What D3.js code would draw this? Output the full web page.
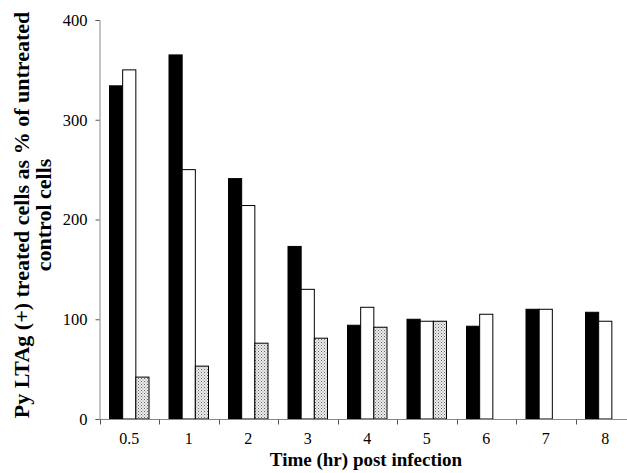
<!DOCTYPE html>
<html>
<head>
<meta charset="utf-8">
<script src="https://cdn.jsdelivr.net/npm/d3@7"></script>
<style>
  body { margin: 0; background: #fff; }
  svg { display: block; }
  .tick text { font-family: "Liberation Serif", "DejaVu Serif", serif; font-size: 16.5px; fill: #000; }
</style>
</head>
<body>
<div id="chart"></div>
<script>
// Py LTAg(+) treated cells as % of untreated, by time post infection
var categories = ['0.5', '1', '2', '3', '4', '5', '6', '7', '8'];
var seriesBlack = [334, 365, 241, 173, 94, 100, 93, 110, 107];
var seriesWhite = [350, 250, 214, 130, 112, 98, 105, 110, 98];
var seriesDotted = [42, 53, 76, 81, 92, 98, null, null, null];
var yTicks = [0, 100, 200, 300, 400];

var series = [
    { key: 'black', values: seriesBlack, fill: '#000' },
    { key: 'white', values: seriesWhite, fill: '#fff' },
    { key: 'dotted', values: seriesDotted, fill: 'url(#stipple)' }
];

var W = 627, H = 473;
var svg = d3.select('#chart').append('svg').attr('width', W).attr('height', H);

var defs = svg.append('defs');
var pat = defs.append('pattern').attr('id', 'stipple').attr('patternUnits', 'userSpaceOnUse').attr('width', 3).attr('height', 3);
pat.append('rect').attr('width', 3).attr('height', 3).attr('fill', '#ececec');
pat.append('rect').attr('x', 0).attr('y', 0).attr('width', 1).attr('height', 1).attr('fill', '#666');
pat.append('rect').attr('x', 1.5).attr('y', 1.5).attr('width', 1).attr('height', 1).attr('fill', '#888');

var x = d3.scaleBand().domain(categories).range([99.5, 635]).paddingInner(0).paddingOuter(0);
var y = d3.scaleLinear().domain([0, 400]).range([419, 20]);
var sub = d3.scaleBand().domain(series.map(function(s) { return s.key; })).range([10, x.bandwidth() - 10]);

// bars
series.forEach(function(s) {
    svg.append('g').selectAll('rect')
        .data(s.values.map(function(v, i) { return { cat: categories[i], v: v }; }).filter(function(d) { return d.v != null; }))
        .enter().append('rect')
        .attr('x', function(d) { return x(d.cat) + sub(s.key); })
        .attr('y', function(d) { return y(d.v); })
        .attr('width', sub.bandwidth())
        .attr('height', function(d) { return y(0) - y(d.v); })
        .attr('fill', s.fill)
        .attr('stroke', '#000')
        .attr('stroke-width', 1);
});

// y axis
var yAxis = svg.append('g').attr('transform', 'translate(99.5,0)')
    .call(d3.axisLeft(y).tickValues(yTicks).tickSize(4).tickPadding(8));
yAxis.select('.domain').attr('stroke', '#888');
yAxis.selectAll('.tick line').attr('stroke', '#555');

// x axis: ticks at band edges
var xAxis = svg.append('g').attr('transform', 'translate(0,419.5)');
xAxis.append('line').attr('x1', 99.5).attr('x2', W).attr('stroke', '#888');
xAxis.selectAll('.edge').data(categories).enter().append('line')
    .attr('x1', function(d) { return Math.round(x(d)) + 0.5; })
    .attr('x2', function(d) { return Math.round(x(d)) + 0.5; })
    .attr('y1', 0).attr('y2', 5).attr('stroke', '#555');
xAxis.selectAll('text').data(categories).enter().append('text')
    .attr('x', function(d) { return x(d) + x.bandwidth() / 2; })
    .attr('y', 24.5)
    .attr('text-anchor', 'middle')
    .style('font-family', '"Liberation Serif", serif').style('font-size', '16px')
    .text(function(d) { return d; });

// titles
svg.append('text').attr('x', 366).attr('y', 465.5).attr('text-anchor', 'middle')
    .style('font-family', '"Liberation Serif", serif').style('font-size', '19px').style('font-weight', 'bold')
    .text('Time (hr) post infection');

var yTitle = svg.append('text').attr('transform', 'translate(0,215) rotate(-90)').attr('text-anchor', 'middle')
    .style('font-family', '"Liberation Serif", serif').style('font-size', '22px').style('font-weight', 'bold');
yTitle.append('tspan').attr('x', 0).attr('y', 29).text('Py LTAg (+) treated cells as % of untreated');
yTitle.append('tspan').attr('x', 0).attr('y', 51).text('control cells');
</script>
</body>
</html>
